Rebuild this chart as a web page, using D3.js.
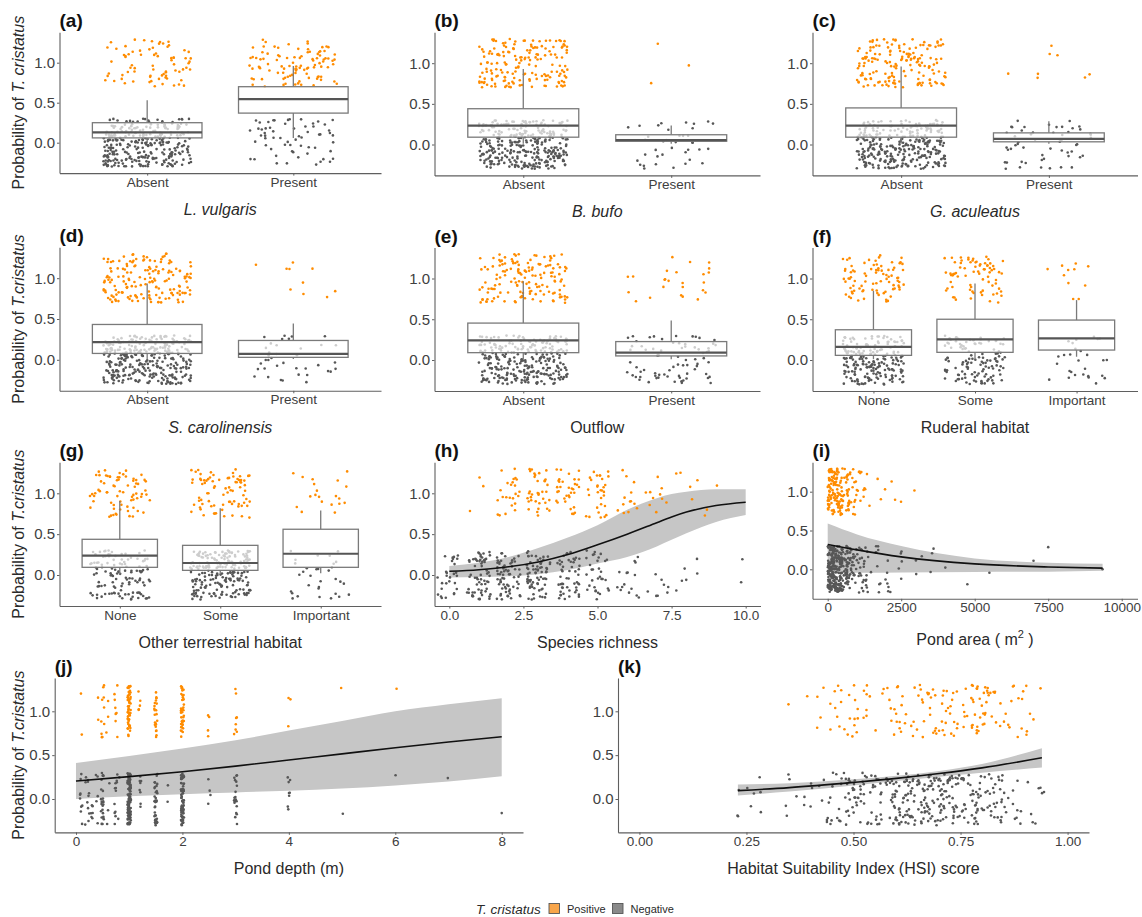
<!DOCTYPE html>
<html>
<head>
<meta charset="utf-8">
<script src="https://cdn.jsdelivr.net/npm/d3@7"></script>
<style>
  body { margin: 0; background: #fff; }
  svg { display: block; font-family: Arial, "Liberation Sans", sans-serif; }
</style>
</head>
<body>
<svg id="fig" width="1142" height="917"></svg>
<script>
// ---------------- data ----------------
// Detection outcome per pond: 1 = positive, 0 = negative (drawn with jitter).
// Box statistics: [lower whisker, Q1, median, Q3, upper whisker] of fitted probability.

const twoLevels = ["Absent", "Present"];
const threeLevels = ["None", "Some", "Important"];

const lvulgarisPositive = [75, 100];
const lvulgarisNegative = [300, 62];
const lvulgarisBox = [[0.01, 0.06, 0.13, 0.25, 0.53], [0.06, 0.37, 0.545, 0.70, 0.96]];

const bbufoPositive = [170, 3];
const bbufoNegative = [330, 38];
const bbufoBox = [[0.01, 0.09, 0.233, 0.44, 0.93], [0.01, 0.04, 0.053, 0.12, 0.233]];

const gaculeatusPositive = [165, 8];
const gaculeatusNegative = [310, 55];
const gaculeatusBox = [[0.01, 0.09, 0.233, 0.45, 0.96], [0.01, 0.033, 0.07, 0.143, 0.285]];

const scarolinensisPositive = [163, 10];
const scarolinensisNegative = [330, 38];
const scarolinensisBox = [[0.01, 0.078, 0.216, 0.433, 0.935], [0.01, 0.03, 0.073, 0.237, 0.445]];

const outflowPositive = [148, 25];
const outflowNegative = [290, 75];
const outflowBox = [[0.01, 0.09, 0.24, 0.453, 0.967], [0.01, 0.05, 0.09, 0.226, 0.486]];

const ruderalPositive = [85, 75, 11];
const ruderalNegative = [210, 120, 28];
const ruderalBox = [[0.01, 0.057, 0.16, 0.371, 0.85], [0.01, 0.094, 0.253, 0.50, 0.94], [0.04, 0.122, 0.265, 0.49, 0.735]];

const terrestrialPositive = [72, 80, 20];
const terrestrialNegative = [120, 215, 32];
const terrestrialBox = [[0.01, 0.094, 0.237, 0.437, 0.906], [0.01, 0.057, 0.147, 0.363, 0.816], [0.02, 0.094, 0.26, 0.56, 0.788]];

// Species richness (number of other species recorded)
const richnessValues = [0, 1, 2, 3, 4, 5, 6, 7, 8, 9, 10];
const richnessPositive = [0, 3, 24, 36, 34, 30, 13, 10, 5, 3, 0];
const richnessNegative = [28, 62, 66, 70, 52, 32, 15, 8, 6, 0, 2];
const richnessFitX = [0, 1, 2, 3, 4, 5, 6, 7, 7.5, 8, 9, 10];
const richnessFit = [0.045, 0.065, 0.10, 0.16, 0.25, 0.37, 0.50, 0.64, 0.71, 0.77, 0.85, 0.89];
const richnessUpper = [0.11, 0.15, 0.22, 0.33, 0.46, 0.61, 0.80, 0.94, 0.99, 1.02, 1.05, 1.05];
const richnessLower = [-0.03, -0.025, -0.015, 0.01, 0.06, 0.14, 0.22, 0.35, 0.43, 0.51, 0.65, 0.735];

// Pond area (m^2): counts per area band, plus individual large ponds
const areaBinEdges = [0, 250, 500, 750, 1000, 1250, 1500, 2000, 2500];
const areaPositive = [62, 50, 25, 15, 8, 4, 3, 3];
const areaNegative = [130, 92, 50, 25, 20, 10, 10, 8];
const areaPositiveLarge = [2950];
const areaNegativeLarge = [2500, 2510, 2520, 3000, 3010, 3200, 3500, 3550, 3600, 4000, 4750, 5500, 7000, 7500, 9350];
const areaFitX = [0, 1000, 2500, 5000, 7500, 9350];
const areaFit = [0.32, 0.25, 0.16, 0.07, 0.03, 0.015];
const areaUpper = [0.59, 0.45, 0.30, 0.14, 0.085, 0.07];
const areaLower = [-0.045, -0.045, -0.04, -0.035, -0.03, -0.02];

// Pond depth (m)
const depthValues = [0.1, 0.2, 0.25, 0.3, 0.4, 0.5, 0.6, 0.75, 0.8, 1.0, 1.2, 1.5, 1.75, 2.0, 2.5, 3.0, 4.0, 5.0, 6.0, 7.0, 8.0];
const depthPositive = [2, 0, 0, 0, 2, 10, 3, 6, 2, 55, 5, 22, 0, 40, 4, 8, 3, 1, 1, 0, 0];
const depthNegative = [9, 6, 5, 6, 5, 25, 3, 12, 2, 110, 8, 35, 2, 75, 4, 20, 8, 1, 1, 1, 1];
const depthFitX = [0, 1, 2, 3, 4, 5, 6, 7, 8];
const depthFit = [0.205, 0.255, 0.31, 0.375, 0.445, 0.515, 0.585, 0.65, 0.71];
const depthUpper = [0.41, 0.49, 0.575, 0.67, 0.78, 0.89, 1.0, 1.08, 1.15];
const depthLower = [0.0, 0.03, 0.055, 0.075, 0.095, 0.12, 0.155, 0.20, 0.26];

// Habitat Suitability Index score: counts per 0.05 band
const hsiBinEdges = [0.225, 0.25, 0.30, 0.35, 0.40, 0.45, 0.50, 0.55, 0.60, 0.65, 0.70, 0.75, 0.80, 0.85, 0.90, 0.945];
const hsiPositive = [0, 0, 1, 1, 6, 12, 14, 10, 15, 20, 20, 25, 20, 12, 6];
const hsiNegative = [3, 6, 3, 5, 12, 25, 30, 35, 50, 50, 50, 40, 30, 12, 8];
const hsiFitX = [0.23, 0.35, 0.5, 0.6, 0.7, 0.8, 0.94];
const hsiFit = [0.095, 0.13, 0.19, 0.235, 0.29, 0.355, 0.47];
const hsiUpper = [0.165, 0.18, 0.225, 0.265, 0.32, 0.40, 0.58];
const hsiLower = [0.04, 0.085, 0.155, 0.205, 0.255, 0.30, 0.36];

const yTickValues = [0, 0.5, 1];

// ---------------- drawing ----------------
const svg = d3.select("#fig");
const AXIS_COL = "#5f5f5f";
const TICK_TEXT = "#404040";
const TITLE_COL = "#2a2a2a";
const POS_COL = "#ff8c00";
const NEG_COL = "#575757";
const RIBBON = "#c6c6c6";
const PT_R = 1.3;

// deterministic jitter offset in [-1, 1]
function jitter(a, b) {
  let h = Math.imul(a + 1, 374761393) ^ Math.imul(b + 7, 668265263);
  h = Math.imul(h ^ (h >>> 13), 1274126177);
  h ^= h >>> 16;
  h = Math.imul(h ^ (h >>> 15), 2246822519);
  h ^= h >>> 13;
  return ((h >>> 0) / 4294967295) * 2 - 1;
}

function makeY(zero, one) {
  const u = zero - one;
  return d3.scaleLinear().domain([-0.38, 1.38]).range([zero + 0.38 * u, one - 0.38 * u]);
}

function styleAxis(g, fontSize) {
  g.select(".domain").attr("stroke", AXIS_COL).attr("stroke-width", 1.1);
  g.selectAll(".tick line").attr("stroke", AXIS_COL).attr("stroke-width", 1);
  g.selectAll(".tick text").attr("fill", TICK_TEXT).attr("font-size", fontSize)
    .attr("font-family", 'Arial, "Liberation Sans", sans-serif');
}

function drawFrame(p, x, y) {
  const g = p.g;
  const [yb] = y.range();
  const gy = g.append("g").attr("transform", `translate(${p.L},0)`)
    .call(d3.axisLeft(y).tickValues(yTickValues).tickFormat(d3.format(".1f")).tickSize(2.5).tickSizeOuter(0).tickPadding(2));
  styleAxis(gy, 15);
  const xa = d3.axisBottom(x).tickSize(2.5).tickSizeOuter(0).tickPadding(1.5);
  if (p.xTicks) xa.tickValues(p.xTicks);
  if (p.xFormat) xa.tickFormat(p.xFormat);
  const gx = g.append("g").attr("transform", `translate(0,${yb})`).call(xa);
  styleAxis(gx, 13.5);
  // panel tag
  g.append("text").attr("x", p.L).attr("y", y.range()[1] - 5)
    .attr("font-size", 19).attr("font-weight", "bold").attr("fill", "#111").text(p.tag);
  // x title
  const t = g.append("text").attr("x", (p.L + p.R) / 2).attr("y", yb + (p.titleOffset || 42))
    .attr("text-anchor", "middle").attr("font-size", 16).attr("fill", TITLE_COL);
  p.xTitle(t);
  // y title
  if (p.yTitle) {
    const cy = (y.range()[0] + y.range()[1]) / 2;
    const yt = g.append("text").attr("transform", `translate(18,${cy}) rotate(-90)`)
      .attr("text-anchor", "middle").attr("dominant-baseline", "central")
      .attr("font-size", 16).attr("fill", TITLE_COL);
    yt.append("tspan").text("Probability of ");
    yt.append("tspan").attr("font-style", "italic").text(p.yTitle);
  }
}

function italicTitle(s) { return t => t.attr("font-style", "italic").text(s); }
function plainTitle(s) { return t => t.text(s); }

function drawPoints(g, pts, x, y) {
  g.append("g").selectAll("circle").data(pts).join("circle")
    .attr("cx", d => x(d.x)).attr("cy", d => y(d.y)).attr("r", PT_R)
    .attr("fill", d => d.v === 1 ? POS_COL : NEG_COL);
}

// ---- categorical panels with boxplots ----
function categoricalPanel(p) {
  p.g = svg.append("g");
  const y = makeY(p.zero, p.one);
  const x = d3.scalePoint().domain(p.levels).range([p.L, p.R]).padding(0.6);
  const step = x.step();
  const pts = [];
  let n = 0;
  p.levels.forEach((lev, k) => {
    [[p.neg[k], 0], [p.pos[k], 1]].forEach(([count, v]) => {
      for (let i = 0; i < count; i++, n++) {
        pts.push({
          v,
          y: v + 0.3 * jitter(n, p.seed * 3 + 1),
          xpx: x(lev) + 0.3 * step * jitter(n, p.seed * 3 + 2)
        });
      }
    });
  });
  p.g.append("g").selectAll("circle").data(pts).join("circle")
    .attr("cx", d => d.xpx).attr("cy", d => y(d.y)).attr("r", PT_R)
    .attr("fill", d => d.v === 1 ? POS_COL : NEG_COL);

  const hw = 0.375 * step;
  const bx = p.g.append("g");
  p.levels.forEach((lev, k) => {
    const [lo, q1, med, q3, hi] = p.box[k];
    const cx = x(lev);
    bx.append("line").attr("x1", cx).attr("x2", cx).attr("y1", y(q3)).attr("y2", y(hi))
      .attr("stroke", "#7a7a7a").attr("stroke-width", 1.3);
    bx.append("line").attr("x1", cx).attr("x2", cx).attr("y1", y(q1)).attr("y2", y(lo))
      .attr("stroke", "#7a7a7a").attr("stroke-width", 1.3);
    bx.append("rect").attr("x", cx - hw).attr("width", 2 * hw)
      .attr("y", y(q3)).attr("height", y(q1) - y(q3))
      .attr("fill", "#fff").attr("fill-opacity", 0.7)
      .attr("stroke", "#7a7a7a").attr("stroke-width", 1.3);
    bx.append("line").attr("x1", cx - hw).attr("x2", cx + hw).attr("y1", y(med)).attr("y2", y(med))
      .attr("stroke", "#555").attr("stroke-width", 2.2);
  });
  drawFrame(p, x, y);
}

// ---- continuous panels with fitted curve ----
function continuousPanel(p) {
  p.g = svg.append("g");
  const y = makeY(p.zero, p.one);
  const x = d3.scaleLinear().domain(p.xDomain).range([p.L, p.R]);
  const fit = p.fitX.map((fx, i) => ({ x: fx, f: p.fit[i], u: p.upper[i], l: p.lower[i] }));
  p.g.append("path").datum(fit)
    .attr("d", d3.area().x(d => x(d.x)).y0(d => y(d.l)).y1(d => y(d.u)).curve(d3.curveMonotoneX))
    .attr("fill", RIBBON);
  drawPoints(p.g, p.points, x, y);
  p.g.append("path").datum(fit)
    .attr("d", d3.line().x(d => x(d.x)).y(d => y(d.f)).curve(d3.curveMonotoneX))
    .attr("fill", "none").attr("stroke", "#111").attr("stroke-width", 1.6);
  drawFrame(p, x, y);
}

// points at discrete x values, jittered horizontally by `wx`
function discretePoints(values, pos, neg, wx, seed) {
  const pts = [];
  let n = 0;
  values.forEach((val, k) => {
    [[neg[k], 0], [pos[k], 1]].forEach(([count, v]) => {
      for (let i = 0; i < count; i++, n++) {
        pts.push({ v, x: val + wx * jitter(n, seed * 5 + 1), y: v + 0.3 * jitter(n, seed * 5 + 2) });
      }
    });
  });
  return pts;
}

// points spread across value bands, plus listed individual values
function bandPoints(edges, pos, neg, seed, extraPos, extraNeg) {
  const pts = [];
  let n = 0;
  for (let k = 0; k < edges.length - 1; k++) {
    const lo = edges[k], hi = edges[k + 1];
    [[neg[k], 0], [pos[k], 1]].forEach(([count, v]) => {
      for (let i = 0; i < count; i++, n++) {
        const t = (jitter(n, seed * 5 + 3) + 1) / 2;
        pts.push({ v, x: lo + t * (hi - lo), y: v + 0.3 * jitter(n, seed * 5 + 4) });
      }
    });
  }
  (extraPos || []).forEach(val => { pts.push({ v: 1, x: val, y: 1 + 0.3 * jitter(n++, seed * 5 + 4) }); });
  (extraNeg || []).forEach(val => { pts.push({ v: 0, x: val, y: 0.3 * jitter(n++, seed * 5 + 4) }); });
  return pts;
}

const COL1 = { L: 59.5, R: 381 };
const COL2 = { L: 434.5, R: 760 };
const COL3 = { L: 812.5, R: 1137.5 };

categoricalPanel({ tag: "(a)", levels: twoLevels, pos: lvulgarisPositive, neg: lvulgarisNegative, box: lvulgarisBox,
  ...COL1, zero: 142.7, one: 62.7, seed: 1, yTitle: "T. cristatus", xTitle: italicTitle("L. vulgaris") });
categoricalPanel({ tag: "(b)", levels: twoLevels, pos: bbufoPositive, neg: bbufoNegative, box: bbufoBox,
  ...COL2, zero: 144.5, one: 63.2, seed: 2, xTitle: italicTitle("B. bufo") });
categoricalPanel({ tag: "(c)", levels: twoLevels, pos: gaculeatusPositive, neg: gaculeatusNegative, box: gaculeatusBox,
  ...COL3, zero: 144.5, one: 63.2, seed: 3, xTitle: italicTitle("G. aculeatus") });

categoricalPanel({ tag: "(d)", levels: twoLevels, pos: scarolinensisPositive, neg: scarolinensisNegative, box: scarolinensisBox,
  ...COL1, zero: 359.8, one: 278.2, seed: 4, yTitle: "T.cristatus", xTitle: italicTitle("S. carolinensis") });
categoricalPanel({ tag: "(e)", levels: twoLevels, pos: outflowPositive, neg: outflowNegative, box: outflowBox,
  ...COL2, zero: 360, one: 278.5, seed: 5, xTitle: plainTitle("Outflow") });
categoricalPanel({ tag: "(f)", levels: threeLevels, pos: ruderalPositive, neg: ruderalNegative, box: ruderalBox,
  ...COL3, zero: 360, one: 278.5, seed: 6, xTitle: plainTitle("Ruderal habitat") });

categoricalPanel({ tag: "(g)", levels: threeLevels, pos: terrestrialPositive, neg: terrestrialNegative, box: terrestrialBox,
  ...COL1, zero: 575, one: 493.3, seed: 7, yTitle: "T.cristatus", xTitle: plainTitle("Other terrestrial habitat") });

continuousPanel({ tag: "(h)", L: 434.5, R: 760.5, zero: 575, one: 493.3, xDomain: [-0.5, 10.5],
  xTicks: [0, 2.5, 5, 7.5, 10], xFormat: d3.format(".1f"),
  points: discretePoints(richnessValues, richnessPositive, richnessNegative, 0.4, 8),
  fitX: richnessFitX, fit: richnessFit, upper: richnessUpper, lower: richnessLower,
  xTitle: plainTitle("Species richness") });

continuousPanel({ tag: "(i)", L: 812.5, R: 1137.5, zero: 569.3, one: 491.7, xDomain: [-517, 10537],
  xTicks: [0, 2500, 5000, 7500, 10000], xFormat: d3.format("d"), titleOffset: 46,
  points: bandPoints(areaBinEdges, areaPositive, areaNegative, 9, areaPositiveLarge, areaNegativeLarge),
  fitX: areaFitX, fit: areaFit, upper: areaUpper, lower: areaLower,
  xTitle: t => {
    t.append("tspan").text("Pond area ( m");
    t.append("tspan").attr("font-size", 11).attr("dy", -7).text("2");
    t.append("tspan").attr("dy", 7).text(" )");
  } });

continuousPanel({ tag: "(j)", L: 54.7, R: 523, zero: 799, one: 711.3, xDomain: [-0.4, 8.4],
  xTicks: [0, 2, 4, 6, 8], xFormat: d3.format("d"), yTitle: "T.cristatus",
  points: discretePoints(depthValues, depthPositive, depthNegative, 0.03, 10),
  fitX: depthFitX, fit: depthFit, upper: depthUpper, lower: depthLower,
  xTitle: plainTitle("Pond depth (m)") });

continuousPanel({ tag: "(k)", L: 618, R: 1089, zero: 799, one: 711.3, xDomain: [-0.05, 1.05],
  xTicks: [0, 0.25, 0.5, 0.75, 1], xFormat: d3.format(".2f"),
  points: bandPoints(hsiBinEdges, hsiPositive, hsiNegative, 11),
  fitX: hsiFitX, fit: hsiFit, upper: hsiUpper, lower: hsiLower,
  xTitle: plainTitle("Habitat Suitability Index (HSI) score") });

// ---- legend ----
const lg = svg.append("g").attr("font-family", 'Arial, "Liberation Sans", sans-serif');
lg.append("text").attr("x", 476).attr("y", 913.5).attr("font-size", 13.5).attr("font-style", "italic")
  .attr("fill", TITLE_COL).text("T. cristatus");
const legendItems = [
  { label: "Positive", fill: "#f8a54a", x: 549 },
  { label: "Negative", fill: "#8a8a8a", x: 612.5 }
];
legendItems.forEach(it => {
  lg.append("rect").attr("x", it.x).attr("y", 903.5).attr("width", 10.5).attr("height", 10)
    .attr("fill", it.fill).attr("stroke", "#555").attr("stroke-width", 0.9);
  lg.append("text").attr("x", it.x + 18).attr("y", 913).attr("font-size", 11).attr("fill", TITLE_COL).text(it.label);
});
</script>
</body>
</html>
